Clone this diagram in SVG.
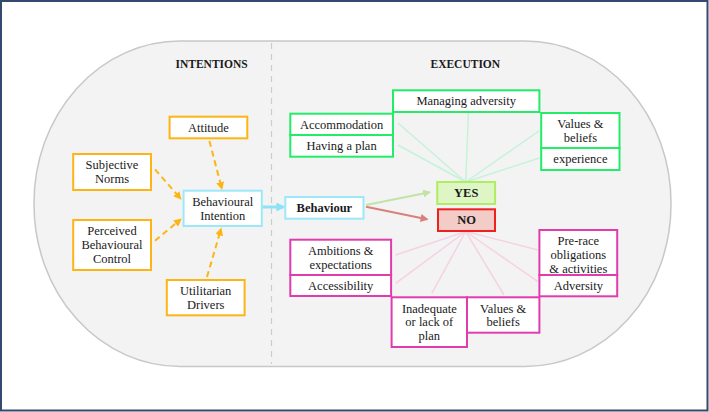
<svg xmlns="http://www.w3.org/2000/svg" width="709" height="412" viewBox="0 0 709 412">
<defs>
<style>
.t{font-family:"Liberation Serif","Times New Roman",serif;font-size:12.5px;fill:#1a1a1a;text-anchor:middle}
.b{font-weight:bold}
.h{font-family:"Liberation Serif","Times New Roman",serif;font-size:11.5px;font-weight:bold;fill:#1a1a1a;text-anchor:middle}
.or{fill:#fff;stroke:#FDB515;stroke-width:2}
.gr{fill:#fff;stroke:#24EC68;stroke-width:2}
.pk{fill:#fff;stroke:#E13CAE;stroke-width:2}
.bl{fill:#fff;stroke:#9BE9F8;stroke-width:2}
.od{stroke:#FDB515;stroke-width:2;stroke-dasharray:6 4;fill:none;marker-end:url(#ao)}
.gl{stroke:#C6F2DA;stroke-width:1.5}
.pl{stroke:#F5D2E4;stroke-width:1.5}
</style>
<marker id="ao" viewBox="0 0 10 10" refX="8" refY="5" markerWidth="4" markerHeight="4" orient="auto"><path d="M0,0L10,5L0,10z" fill="#FDB515"/></marker>
<marker id="ab" viewBox="0 0 10 10" refX="8" refY="5" markerWidth="3" markerHeight="3" orient="auto"><path d="M0,0L10,5L0,10z" fill="#8FE2F6"/></marker>
<marker id="ag" viewBox="0 0 10 10" refX="8" refY="5" markerWidth="4" markerHeight="4" orient="auto"><path d="M0,0L10,5L0,10z" fill="#C3E3A6"/></marker>
<marker id="ar" viewBox="0 0 10 10" refX="8" refY="5" markerWidth="4" markerHeight="4" orient="auto"><path d="M0,0L10,5L0,10z" fill="#D88079"/></marker>
</defs>
<rect x="0" y="0" width="709" height="412" fill="#fff"/>
<rect x="1" y="1" width="706.5" height="409.5" fill="none" stroke="#33496E" stroke-width="2"/>
<g id="background">
<rect x="34" y="41" width="637" height="325.5" rx="146" ry="162" fill="#F3F3F3" stroke="#C8C8C8" stroke-width="1.5"/>
<line x1="271.5" y1="43" x2="271.5" y2="364" stroke="#CCCCCC" stroke-width="1.2" stroke-dasharray="6 5"/>
<text class="h" x="211.6" y="68">INTENTIONS</text>
<text class="h" x="465.3" y="68">EXECUTION</text>
</g>
<g id="connectors">
<line class="gl" x1="465.7" y1="182" x2="398" y2="123"/>
<line class="gl" x1="465.7" y1="182" x2="398" y2="145"/>
<line class="gl" x1="465.7" y1="182" x2="468.4" y2="113"/>
<line class="gl" x1="465.7" y1="182" x2="539.4" y2="130.7"/>
<line class="gl" x1="465.7" y1="182" x2="539.4" y2="158"/>
<line class="pl" x1="465.7" y1="231.5" x2="395.6" y2="255"/>
<line class="pl" x1="465.7" y1="231.5" x2="395.6" y2="283.3"/>
<line class="pl" x1="465.7" y1="231.5" x2="431.8" y2="293.3"/>
<line class="pl" x1="465.7" y1="231.5" x2="504" y2="295"/>
<line class="pl" x1="465.7" y1="231.5" x2="538" y2="281.7"/>
<line class="pl" x1="465.7" y1="231.5" x2="538" y2="250"/>
<line class="od" x1="209.4" y1="141" x2="221.8" y2="188.5"/>
<line class="od" x1="155" y1="169.3" x2="180.5" y2="198.5"/>
<line class="od" x1="155" y1="240.7" x2="180.5" y2="219.5"/>
<line class="od" x1="207" y1="277" x2="221" y2="229"/>
<line x1="262.5" y1="207" x2="283.5" y2="207" stroke="#8FE2F6" stroke-width="3" marker-end="url(#ab)"/>
<line x1="366" y1="205" x2="429.5" y2="192.3" stroke="#C3E3A6" stroke-width="2" marker-end="url(#ag)"/>
<line x1="366" y1="206.7" x2="427" y2="219.3" stroke="#D88079" stroke-width="2" marker-end="url(#ar)"/>
</g>
<g id="attitude"><rect class="or" x="169.6" y="116.7" width="77.7" height="21.6"/><text class="t" x="208.4" y="132">Attitude</text></g>
<g id="subjective-norms"><rect class="or" x="73.2" y="154" width="77.8" height="36"/><text class="t" x="112" y="169">Subjective</text><text class="t" x="112" y="183">Norms</text></g>
<g id="perceived-control"><rect class="or" x="73.2" y="220" width="77.8" height="50"/><text class="t" x="112" y="235">Perceived</text><text class="t" x="112" y="249">Behavioural</text><text class="t" x="112" y="263">Control</text></g>
<g id="utilitarian-drivers"><rect class="or" x="166.8" y="280" width="77.8" height="35.3"/><text class="t" x="205.7" y="295">Utilitarian</text><text class="t" x="205.7" y="308.7">Drivers</text></g>
<g id="behavioural-intention"><rect class="bl" x="183.6" y="190.7" width="78.2" height="35.3"/><text class="t" x="222.7" y="205.5">Behavioural</text><text class="t" x="222.7" y="219.5">Intention</text></g>
<g id="behaviour"><rect class="bl" x="285.3" y="197" width="78.2" height="21.7"/><text class="t b" x="324.4" y="212">Behaviour</text></g>
<g id="yes"><rect x="437.2" y="182" width="57.9" height="22" fill="#DDF6C4" stroke="#AEEE62" stroke-width="2"/><text class="t b" x="466.2" y="197">YES</text></g>
<g id="no"><rect x="438" y="209.3" width="57" height="21.7" fill="#F3CBC7" stroke="#F02020" stroke-width="2"/><text class="t b" x="466.5" y="224.3">NO</text></g>
<g id="managing-adversity"><rect class="gr" x="393" y="90.3" width="146.4" height="21.7"/><text class="t" x="466.2" y="105.2">Managing adversity</text></g>
<g id="accommodation"><rect class="gr" x="290.3" y="113.7" width="102.7" height="21.3"/><text class="t" x="341.6" y="128.5">Accommodation</text></g>
<g id="having-a-plan"><rect class="gr" x="290.3" y="135" width="102.7" height="21.7"/><text class="t" x="341.6" y="150">Having a plan</text></g>
<g id="values-beliefs-yes"><rect class="gr" x="541.2" y="113" width="78.3" height="35"/><text class="t" x="580.4" y="127.8">Values &amp;</text><text class="t" x="580.4" y="141.5">beliefs</text></g>
<g id="experience"><rect class="gr" x="541.2" y="148" width="78.3" height="22"/><text class="t" x="580.4" y="163.3">experience</text></g>
<g id="ambitions"><rect class="pk" x="290.3" y="239.7" width="100.8" height="35.3"/><text class="t" x="340.7" y="254.8">Ambitions &amp;</text><text class="t" x="340.7" y="268.8">expectations</text></g>
<g id="accessibility"><rect class="pk" x="290.3" y="275" width="100.8" height="21"/><text class="t" x="340.7" y="289.8">Accessibility</text></g>
<g id="inadequate-plan"><rect class="pk" x="391.6" y="297.3" width="75.4" height="49.7"/><text class="t" x="429.3" y="312.5">Inadequate</text><text class="t" x="429.3" y="326.2">or lack of</text><text class="t" x="429.3" y="339.8">plan</text></g>
<g id="values-beliefs-no"><rect class="pk" x="467" y="297.3" width="72.4" height="35.4"/><text class="t" x="503.2" y="312.5">Values &amp;</text><text class="t" x="503.2" y="326.2">beliefs</text></g>
<g id="pre-race"><rect class="pk" x="539.4" y="230" width="77.8" height="45"/><text class="t" x="578.3" y="244.8">Pre-race</text><text class="t" x="578.3" y="258.8">obligations</text><text class="t" x="578.3" y="272.5">&amp; activities</text></g>
<g id="adversity"><rect class="pk" x="539.4" y="275" width="77.8" height="21.3"/><text class="t" x="578.3" y="290.2">Adversity</text></g>
</svg>
